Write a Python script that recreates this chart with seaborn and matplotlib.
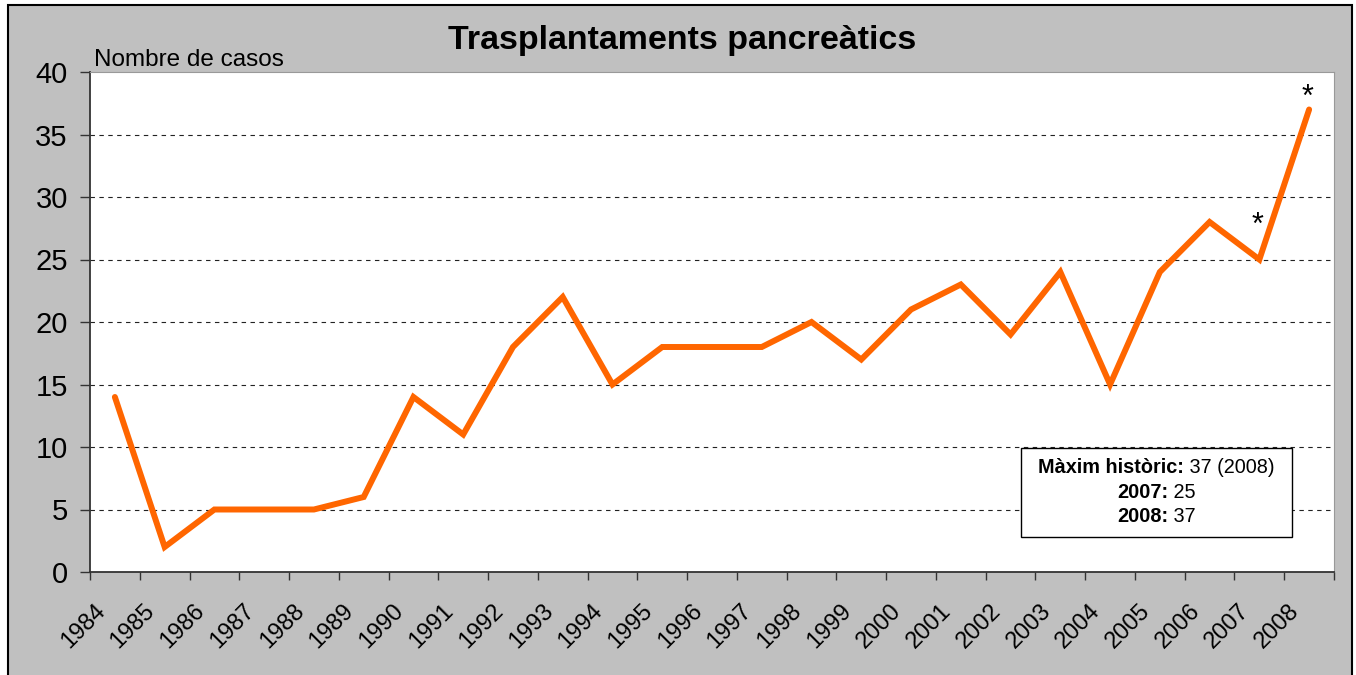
import numpy as np
import pandas as pd
import seaborn as sns
import matplotlib.pyplot as plt
import matplotlib.transforms as mtransforms
from matplotlib.patches import Rectangle

years = ['1984', '1985', '1986', '1987', '1988', '1989', '1990', '1991', '1992',
         '1993', '1994', '1995', '1996', '1997', '1998', '1999', '2000', '2001',
         '2002', '2003', '2004', '2005', '2006', '2007', '2008']
cases = [14, 2, 5, 5, 5, 6, 14, 11, 18, 22, 15, 18, 18, 18, 20, 17, 21, 23,
         19, 24, 15, 24, 28, 25, 37]
starred = ['2007', '2008']
star_lift = [2.7, 0.9]
note_bold = ['Màxim històric:', '2007:', '2008:']
note_plain = [' 37 (2008)', ' 25', ' 37']

df = pd.DataFrame({'pos': np.arange(len(years)), 'year': years, 'cases': cases})

sns.set_theme(style='white')
plt.rcParams['font.family'] = ['Liberation Sans', 'DejaVu Sans']
plt.rcParams['text.color'] = 'black'
plt.rcParams['xtick.color'] = 'black'
plt.rcParams['ytick.color'] = 'black'
plt.rcParams['xtick.labelcolor'] = 'black'
plt.rcParams['ytick.labelcolor'] = 'black'

fig = plt.figure(figsize=(13.56, 6.75), dpi=100)
fig.patch.set_facecolor('white')
# grey chart area with black frame
fig.patches.append(Rectangle((8 / 1356, -0.01), 1344 / 1356, 1 - 5 / 675 + 0.01,
                             transform=fig.transFigure, facecolor='#c0c0c0',
                             edgecolor='black', linewidth=1.5, zorder=-10))

ax = fig.add_axes([90 / 1356, 1 - 572 / 675, 1244 / 1356, 500 / 675])
ax.set_facecolor('white')

sns.lineplot(data=df, x='pos', y='cases', ax=ax, color='#ff6600', linewidth=4.3,
             solid_joinstyle='miter', solid_capstyle='round')

ax.set_xlim(-0.5, len(years) - 0.5)
ax.set_ylim(0, 40)
ax.set_yticks(range(0, 41, 5))
ax.set_yticklabels([str(v) for v in range(0, 41, 5)], fontsize=21)
for v in range(5, 40, 5):
    ax.axhline(v, color='#222222', linestyle=(0, (4, 4)), linewidth=0.8, zorder=0)

# ticks between categories, labels at centres
ax.set_xticks(np.arange(-0.5, len(years), 1.0))
ax.set_xticklabels([])
ax.set_xticks(np.arange(len(years)), minor=True)
ax.set_xticklabels(years, minor=True, rotation=45, ha='right',
                   rotation_mode='anchor', fontsize=17)
ax.tick_params(axis='x', which='major', direction='out', length=6, width=1,
               color='#333333', bottom=True)
ax.tick_params(axis='x', which='minor', length=0, pad=20)
ax.tick_params(axis='y', direction='out', length=7, width=1, color='#333333',
               left=True, pad=9)
offset = mtransforms.ScaledTranslation(-15 / 72, 0, fig.dpi_scale_trans)
for lab in ax.get_xticklabels(minor=True):
    lab.set_transform(lab.get_transform() + offset)

ax.set_xlabel('')
ax.set_ylabel('')
for side in ['left', 'bottom']:
    ax.spines[side].set_color('#333333')
    ax.spines[side].set_linewidth(1.3)
for side in ['top', 'right']:
    ax.spines[side].set_color('#999999')
    ax.spines[side].set_linewidth(0.8)

ax.text(0.003, 1.002, 'Nombre de casos', transform=ax.transAxes, ha='left',
        va='bottom', fontsize=17.5)
fig.text(682 / 1356, 1 - 40 / 675, 'Trasplantaments pancreàtics', ha='center',
         va='center', fontsize=24.5, fontweight='bold')

for y, lift in zip(starred, star_lift):
    i = years.index(y)
    ax.text(i - 0.04, cases[i] + lift, '*', ha='center', va='center',
            fontsize=22)

# note box
ax.add_patch(Rectangle((18.21, 2.8), 5.45, 7.1, facecolor='white',
                       edgecolor='black', linewidth=1.0, zorder=5))
fig.canvas.draw()
renderer = fig.canvas.get_renderer()
cx = 20.93
px_per_unit = ax.transData.transform((1, 0))[0] - ax.transData.transform((0, 0))[0]
for k, (b, p) in enumerate(zip(note_bold, note_plain)):
    yy = 8.35 - k * 1.97
    tb = ax.text(0, yy, b, fontweight='bold', fontsize=14.3, va='center',
                 ha='left', zorder=6)
    tp = ax.text(0, yy, p, fontsize=14.3, va='center', ha='left', zorder=6)
    wb = tb.get_window_extent(renderer).width
    wp = tp.get_window_extent(renderer).width
    start = cx - (wb + wp) / 2 / px_per_unit
    tb.set_x(start)
    tp.set_x(start + wb / px_per_unit)

fig.savefig('out.png', dpi=100, facecolor=fig.get_facecolor())
